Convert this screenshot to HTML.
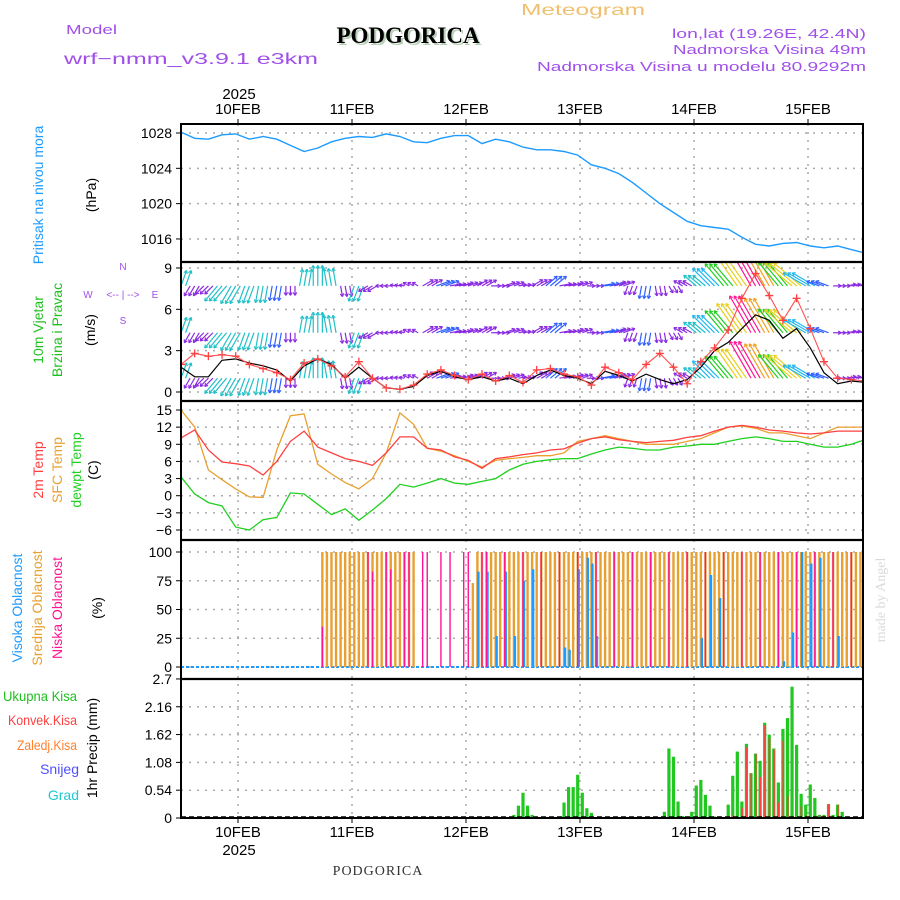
<!DOCTYPE html>
<html><head><meta charset="utf-8"><style>
html,body{margin:0;padding:0;background:#fff}
svg{display:block}
text{font-family:"Liberation Sans",sans-serif}
.serif{font-family:"Liberation Serif",serif}
</style></head><body>
<svg id="chart" width="900" height="900" viewBox="0 0 900 900" xmlns="http://www.w3.org/2000/svg">
<g>
<text x="521" y="15" font-size="16" fill="#f0c070" textLength="124" lengthAdjust="spacingAndGlyphs">Meteogram</text>
<text class="serif" x="410" y="45" font-size="23" font-weight="bold" fill="#b8d0b8" text-anchor="middle">PODGORICA</text>
<text class="serif" x="408" y="43" font-size="23" font-weight="bold" fill="#000" text-anchor="middle">PODGORICA</text>
<text x="66" y="34" font-size="13" fill="#a050e8" textLength="51" lengthAdjust="spacingAndGlyphs">Model</text>
<text x="64" y="64" font-size="16" fill="#a050e8" textLength="254" lengthAdjust="spacingAndGlyphs">wrf−nmm_v3.9.1 e3km</text>
<text x="672" y="38" font-size="13" fill="#a050e8" textLength="194" lengthAdjust="spacingAndGlyphs">lon,lat (19.26E, 42.4N)</text>
<text x="673" y="54" font-size="13" fill="#a050e8" textLength="193" lengthAdjust="spacingAndGlyphs">Nadmorska Visina 49m</text>
<text x="537" y="71" font-size="13" fill="#a050e8" textLength="329" lengthAdjust="spacingAndGlyphs">Nadmorska Visina u modelu 80.9292m</text>
<text x="239" y="99" font-size="15" text-anchor="middle">2025</text>
<text x="239" y="855" font-size="15" text-anchor="middle">2025</text>
<text class="serif" x="378" y="875" font-size="14" text-anchor="middle" fill="#333" letter-spacing="1">PODGORICA</text>
<text class="serif" transform="translate(885,600) rotate(-90)" font-size="14" fill="#d8dcd8" text-anchor="middle">made by Angel</text>
</g>
<g font-size="14">
<text transform="translate(43,195) rotate(-90)" fill="#1e9bff" text-anchor="middle">Pritisak na nivou mora</text>
<text transform="translate(96,195) rotate(-90)" text-anchor="middle">(hPa)</text>
<text transform="translate(43,330) rotate(-90)" fill="#20c020" text-anchor="middle">10m Vjetar</text>
<text transform="translate(62,330) rotate(-90)" fill="#20c020" text-anchor="middle">Brzina i Pravac</text>
<text transform="translate(95,330) rotate(-90)" text-anchor="middle">(m/s)</text>
<text transform="translate(43,470) rotate(-90)" fill="#ff4040" text-anchor="middle">2m Temp</text>
<text transform="translate(62,470) rotate(-90)" fill="#e8a030" text-anchor="middle">SFC Temp</text>
<text transform="translate(81,470) rotate(-90)" fill="#20d020" text-anchor="middle">dewpt Temp</text>
<text transform="translate(98,470) rotate(-90)" text-anchor="middle">(C)</text>
<text transform="translate(22,608) rotate(-90)" fill="#1e9bff" text-anchor="middle">Visoka Oblacnost</text>
<text transform="translate(42,608) rotate(-90)" fill="#e8a030" text-anchor="middle">Srednja Oblacnost</text>
<text transform="translate(62,608) rotate(-90)" fill="#ff1493" text-anchor="middle">Niska Oblacnost</text>
<text transform="translate(102,608) rotate(-90)" text-anchor="middle">(%)</text>
<text transform="translate(97,748) rotate(-90)" text-anchor="middle">1hr Precip (mm)</text>
<text x="3" y="701" fill="#20c020" textLength="74" lengthAdjust="spacingAndGlyphs">Ukupna Kisa</text>
<text x="8" y="725" fill="#ff4040" textLength="69" lengthAdjust="spacingAndGlyphs">Konvek.Kisa</text>
<text x="17" y="750" fill="#ff8030" textLength="60" lengthAdjust="spacingAndGlyphs">Zaledj.Kisa</text>
<text x="79" y="774" fill="#5050ff" text-anchor="end">Snijeg</text>
<text x="79" y="800" fill="#20c8d0" text-anchor="end">Grad</text>
</g>
<g fill="#a050e8" font-size="10">
<text x="123" y="270" text-anchor="middle">N</text>
<text x="123" y="298" text-anchor="middle">&lt;-- | --&gt;</text>
<text x="88" y="298" text-anchor="middle">W</text>
<text x="155" y="298" text-anchor="middle">E</text>
<text x="123" y="324" text-anchor="middle">S</text>
</g>
<g id="plot"></g>
</svg>
<script>
const dayLabels = ["10FEB","11FEB","12FEB","13FEB","14FEB","15FEB"];
const pressureTicks = [1016,1020,1024,1028];
const windTicks = [0,3,6,9];
const tempTicks = [-6,-3,0,3,6,9,12,15];
const cloudTicks = [0,25,50,75,100];
const precipTicks = [0,0.54,1.08,1.62,2.16,2.7];
const pressure = [1028.1,1027.4,1027.3,1027.8,1027.9,1027.3,1027.6,1027.3,1026.6,1025.9,1026.3,1027.0,1027.4,1027.6,1027.5,1027.9,1027.6,1027.0,1026.9,1027.4,1027.7,1027.7,1026.8,1027.3,1027.0,1026.4,1026.1,1026.1,1025.9,1025.5,1024.4,1024.0,1023.4,1022.4,1021.2,1020.0,1019.0,1018.0,1017.5,1017.3,1017.1,1016.2,1015.4,1015.2,1015.5,1015.6,1015.2,1015.0,1015.2,1014.8,1014.4];
const windSpeed = [1.8,1.1,1.1,2.3,2.4,2.1,1.9,1.6,0.8,1.9,2.4,2.0,1.0,1.8,1.0,0.3,0.2,0.4,1.2,1.5,1.1,0.9,1.1,0.8,1.0,0.6,1.2,1.6,1.2,1.0,0.6,1.5,1.2,0.8,1.3,0.9,0.6,0.9,1.8,3.0,3.6,4.6,5.6,5.2,3.9,4.6,3.2,1.4,0.6,0.8,0.7];
const windGust = [2.0,2.8,2.6,2.7,2.6,2.0,1.7,1.4,0.9,2.1,2.4,1.9,1.1,2.2,1.0,0.3,0.2,0.5,1.3,1.6,1.2,0.9,1.3,0.8,1.2,0.7,1.6,1.7,1.3,1.1,0.5,1.8,1.4,0.9,2.0,2.8,1.8,0.6,2.2,3.2,4.5,6.8,8.6,7.0,5.2,6.8,4.6,2.2,1.0,0.9,0.8];
const windDir = [200,30,45,40,30,20,10,10,0,190,180,170,350,20,60,90,100,120,240,250,260,250,240,270,250,260,240,230,260,250,270,260,250,20,10,350,330,120,130,135,140,145,150,150,140,130,120,110,270,260,250];
const temp2m = [10.1,11.5,8.0,5.9,5.6,5.2,3.6,6.0,9.5,11.3,8.5,7.5,6.5,6.0,5.3,7.5,10.3,10.3,8.3,8.0,6.8,6.2,4.8,6.5,6.8,7.2,7.5,8.0,8.2,9.2,10.0,10.3,9.8,9.5,9.3,9.5,9.7,10.2,10.5,11.3,12.0,12.3,12.0,11.5,11.3,11.0,10.8,11.0,11.3,11.3,11.3];
const tempSfc = [15.0,12.0,4.5,2.8,1.2,-0.2,-0.3,8.0,14.0,14.3,5.5,3.8,2.3,1.2,3.0,7.5,14.5,12.5,8.3,7.8,7.0,6.0,5.0,6.2,6.5,6.7,7.0,7.0,7.5,9.5,10.0,10.5,10.0,9.5,9.0,9.0,9.0,9.5,10.0,11.0,12.0,12.2,11.8,11.0,11.0,10.5,10.0,11.0,12.0,12.0,12.0];
const tempDew = [3.3,0.3,-1.2,-1.8,-5.5,-6.0,-4.2,-3.8,0.5,0.3,-1.5,-3.3,-2.3,-4.3,-2.5,-0.5,2.0,1.5,2.2,3.0,2.2,2.0,2.5,3.0,4.5,5.5,6.0,6.3,6.5,6.5,7.3,8.0,8.5,8.3,8.0,8.0,8.5,8.7,9.0,9.0,9.5,10.0,10.3,10.0,9.5,9.5,9.0,8.5,8.5,9.0,9.8];
const midCloud = [[31,100],[32,100],[33,100],[34,100],[35,100],[36,100],[37,100],[38,100],[39,100],[40,100],[41,100],[42,100],[43,100],[44,100],[45,100],[46,100],[47,100],[48,100],[49,100],[50,100],[51,100],
[64,73],[65,100],[66,100],[67,100],[68,100],[69,100],[70,100],[71,100],[72,100],[73,100],[74,100],[75,100],[76,100],[77,100],[78,100],[79,100],[80,100],[81,100],[82,100],[83,100],[84,100],[85,100],[86,100],[87,100],[88,100],[89,100],[90,100],[91,100],[92,100],[93,100],[94,100],[95,100],[96,100],[97,100],[98,100],[99,100],[100,100],[101,100],[102,100],[103,100],[104,100],[105,100],[106,100],[107,100],[108,100],[109,100],[110,100],[111,100],[112,100],[113,100],[114,100],[115,100],[116,100],[117,100],[118,100],[119,100],[120,100],[121,100],[122,100],[123,100],[124,100],[125,100],[126,100],[127,100],[128,100],[129,100],[130,100],[131,100],[132,100],[133,100],[134,100],[135,100],[136,100],[137,100],[138,100],[139,100],[140,100],[141,100],[142,100],[143,100],[144,100],[145,100],[146,100],[147,100],[148,100],[149,100],[150,100]];
const lowCloud = [[31,35],[41,100],[42,83],[45,100],[46,85],[49,100],[50,100],[53,100],[54,100],[57,100],[59,100],[62,100],[63,100],[66,100],[67,100],[71,100],[75,100],[79,100],[83,100],[87,100],[91,100],[95,100],[99,100],[103,100],[107,100],[111,100],[115,100],[119,100],[123,100],[127,100],[131,100],[135,100],[139,100],[143,100],[147,100]];
const highCloud = [[65,83],[67,83],[69,27],[71,83],[73,27],[75,75],[77,85],[84,17],[85,15],[87,85],[89,95],[90,90],[91,27],[114,25],[116,80],[118,60],[132,5],[134,30],[136,100],[138,90],[140,95],[144,27]];
const precipHours = [73,74,75,76,77,84,85,86,87,88,89,90,106,107,108,109,110,112,113,114,115,116,117,118,120,121,122,123,124,125,126,127,128,129,130,131,132,133,134,135,136,137,138,139,140,141,142,143,144,145,146,148];
const precipTotal = [0.06,0.24,0.49,0.24,0.06,0.3,0.6,0.6,0.84,0.49,0.19,0.1,0.12,1.35,1.19,0.32,0.04,0.12,0.63,0.74,0.45,0.24,0.03,0.03,0.26,0.82,1.29,0.32,1.44,0.87,1.25,1.11,1.85,1.62,1.35,0.69,1.73,1.94,2.55,1.42,0.47,0.26,0.65,0.39,0.06,0.06,0.27,0.06,0.26,0.12,0.03,0.03];
const precipConv = [0,0,0,0,0,0,0,0,0,0,0,0,0,0,0,0,0,0,0,0,0,0,0,0,0.02,0.05,0,0.2,1.37,0.87,1.25,0.8,1.8,1.55,1.33,0.3,1.5,0.43,0,0,0.22,0.05,0,0,0.06,0,0.27,0,0.26,0,0,0];

const L=181, R=863;
const X = h => 181 + h*4.56;
const XI = i => X(i*3);
const DAY0 = 12.5, DAYLEN = 25;
const P = {top:124,b1:262,b2:401,b3:540,b4:679,bot:818};
const yP = p => 133 + (1028-p)*8.83;
const yW = v => 392 - v*13.78;
const yT = t => 410 + (15-t)*5.714;
const yC = c => 667 - c*1.15;
const yR = r => 818 - r*51.5;
const NS='http://www.w3.org/2000/svg';
const plot=document.getElementById('plot');
function mk(tag,attrs,parent){const e=document.createElementNS(NS,tag);for(const k in attrs)e.setAttribute(k,attrs[k]);(parent||plot).appendChild(e);return e;}

const defs=mk('defs',{});
[['cw',P.b1,P.b2],['ct',P.b2,P.b3],['cp',P.top,P.b1],['call',P.top,P.bot]].forEach(c=>{const cp=mk('clipPath',{id:c[0]},defs);mk('rect',{x:L,y:c[1],width:R-L,height:c[2]-c[1]},cp);});

const grid=mk('g',{});


function hgrid(vals,fy,fmt){vals.forEach(v=>{const y=fy(v);const ln=mk('line',{x1:L,x2:R,y1:y,y2:y,stroke:'#aaa','stroke-dasharray':'2,6','stroke-width':1.5},grid);
 
 
 const t=mk('text',{x:172,y:y+5,'font-size':14,'text-anchor':'end'},grid);t.textContent=fmt(v);
 
 
 mk('line',{x1:L-5,x2:L,y1:y,y2:y,stroke:'#000'},grid);});}
hgrid(pressureTicks,yP,v=>v);
hgrid(windTicks,yW,v=>v);
hgrid(tempTicks,yT,v=>v<0?'−'+(-v):v);
hgrid(cloudTicks,yC,v=>v);
hgrid(precipTicks,yR,v=>v);
dayLabels.forEach((d,k)=>{const x=X(DAY0+DAYLEN*k);
 const ln=mk('line',{x1:x,x2:x,y1:P.top,y2:P.bot,stroke:'#aaa','stroke-dasharray':'2,6','stroke-width':1.5},grid);
 
 
 const t1=mk('text',{x:x,y:114,'font-size':15,'text-anchor':'middle'},grid);t1.textContent=d;
 
 
 const t2=mk('text',{x:x,y:837,'font-size':15,'text-anchor':'middle'},grid);t2.textContent=d;
 
 
 mk('line',{x1:x,x2:x,y1:P.top-5,y2:P.top,stroke:'#000'},grid);mk('line',{x1:x,x2:x,y1:P.bot,y2:P.bot+5,stroke:'#000'},grid);});

function line(arr,fy,color,name,clip,w){const pts=arr.map((v,i)=>XI(i).toFixed(1)+','+fy(v).toFixed(1)).join(' ');
 const e=mk('polyline',{points:pts,fill:'none',stroke:color,'stroke-width':w||1.3,'clip-path':'url(#'+clip+')'});
 
 
 return e;}

line(pressure,yP,'#1e9bff','pressure-line','cp',1.4);

const wg=mk('g',{'clip-path':'url(#cw)'});


function wcol(s){return s<1.3?'#8a2be2':s<1.8?'#3060ff':s<2.6?'#20c0c8':s<3.4?'#20b8f0':s<4.2?'#20d020':s<5.0?'#e8d020':s<5.3?'#f0a020':'#ff1493';}
[7.7,4.3,1.0].forEach(base=>{for(let h=0;h<=150;h++){const i=Math.round(h/3);const s=windSpeed[i],d=windDir[i]*Math.PI/180;const len=s*0.5*13.78+4;
 const x0=X(h),y0=yW(base);const x1=x0-Math.sin(d)*len,y1=y0+Math.cos(d)*len;const c=wcol(s);
 const a=mk('line',{x1:x0,y1:y0,x2:x1,y2:y1,stroke:c,'stroke-width':1.2},wg);
 
 
 const ang=Math.atan2(y1-y0,x1-x0);[2.6,-2.6].forEach(o=>mk('line',{x1:x1,y1:y1,x2:x1+3.5*Math.cos(ang+o),y2:y1+3.5*Math.sin(ang+o),stroke:c,'stroke-width':1.1},wg));}});
line(windSpeed,yW,'#000','wind-speed-line','cw',1.2);
line(windGust,yW,'#ff5050','wind-gust-line','cw',1.1);
windGust.forEach((v,i)=>{const x=XI(i),y=yW(v);const g=mk('path',{d:`M${x-4},${y}H${x+4}M${x},${y-4}V${y+4}`,stroke:'#ff4040','stroke-width':1.3,'clip-path':'url(#cw)'});
 
 });

line(tempSfc,yT,'#e8a030','sfc-temp-line','ct');
line(temp2m,yT,'#ff4040','temp-2m-line','ct');
line(tempDew,yT,'#20d020','dewpoint-line','ct');

const baseL=mk('line',{x1:L,x2:R,y1:yC(0),y2:yC(0),stroke:'#1e9bff','stroke-width':2,'stroke-dasharray':'3,2'});


const cg=mk('g',{'clip-path':'url(#call)'});
function cbars(arr,color,w,off,name){arr.forEach(([h,v])=>{const x=X(h)+off;const r=mk('rect',{x:x-w/2,y:yC(v),width:w,height:yC(0)-yC(v),fill:color},cg);
 
 });}
cbars(midCloud,'#e8a030',2.4,0,'mid-cloud-bar');
cbars(highCloud,'#1e9bff',2.4,1,'high-cloud-bar');
cbars(lowCloud,'#ff1493',1.4,0,'low-cloud-bar');

precipHours.forEach((h,k)=>{const x=X(h);const t=precipTotal[k];
 const r=mk('rect',{x:x-1.6,y:yR(t),width:3.2,height:yR(0)-yR(t),fill:'#20c820'});
 
 
 const c=precipConv[k];if(c>0){const r2=mk('rect',{x:x-0.6,y:yR(c),width:1.6,height:yR(0)-yR(c),fill:'#ff4040'});
 
 }});
mk('line',{x1:L,x2:R,y1:P.bot-1,y2:P.bot-1,stroke:'#000','stroke-width':1.5,'stroke-dasharray':'5,3'});

const fr=mk('g',{});


mk('rect',{x:L,y:P.top,width:R-L,height:P.bot-P.top,fill:'none',stroke:'#000','stroke-width':2},fr);
[P.b1,P.b2,P.b3,P.b4].forEach(y=>mk('line',{x1:L,x2:R,y1:y,y2:y,stroke:'#000','stroke-width':2.2},fr));
</script>
</body></html>
